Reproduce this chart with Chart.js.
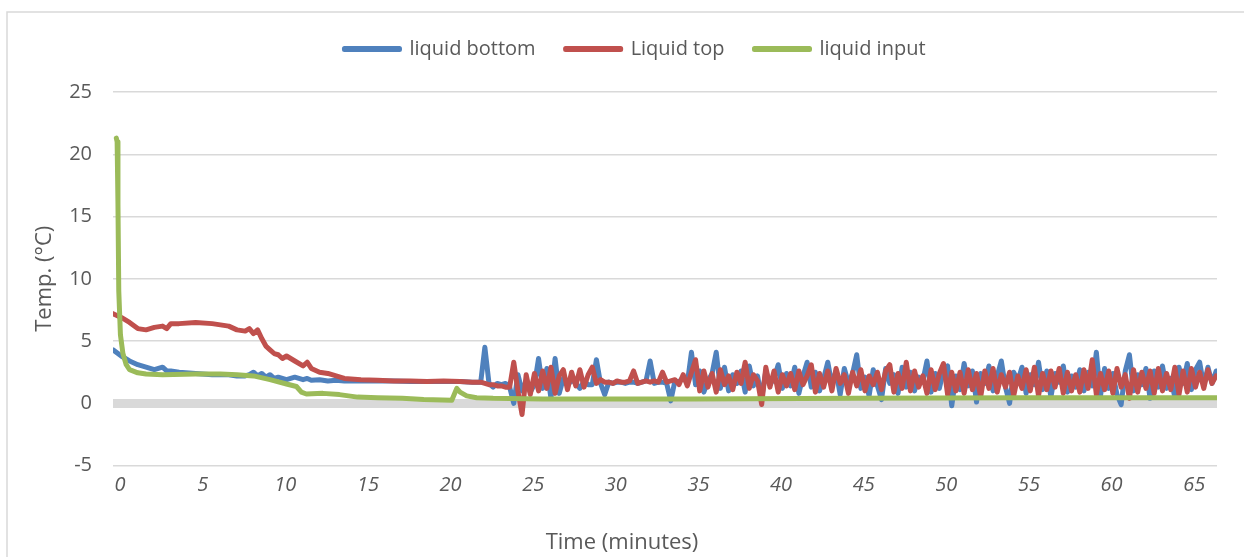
<!DOCTYPE html>
<html>
<head>
<meta charset="utf-8">
<script src="https://cdn.jsdelivr.net/npm/chart.js@4.4.0/dist/chart.umd.min.js"></script>
<style>
  html, body { margin: 0; padding: 0; background: #fff; }
</style>
</head>
<body>
<canvas id="tempChart" width="1244" height="557"></canvas>
<script>
// Liquid temperatures during the run

const seriesNames = ['liquid bottom', 'Liquid top', 'liquid input']
const seriesColors = ['#4f81bd', '#c0504d', '#9bbb59']

// first minutes, sampled where the curves bend
const earlyTime = [0, 0.5, 1, 1.5, 2, 2.5, 3, 3.25, 3.5, 4, 5, 6, 7, 7.5, 8, 8.25, 8.5, 8.75, 9, 9.25,
  9.5, 9.75, 10, 10.25, 10.5, 11, 11.5, 11.75, 12, 12.5, 13, 13.5, 14, 15, 16, 17, 18, 19, 20, 21, 21.75]
const bottomEarly = [4.3, 3.8, 3.4, 3.1, 2.9, 2.7, 2.9, 2.6, 2.6, 2.5, 2.4, 2.3, 2.3, 2.2, 2.2, 2.3, 2.5, 2.2, 2.4, 2.1,
  2.3, 2.0, 2.1, 2.0, 1.9, 2.1, 1.9, 2.0, 1.85, 1.9, 1.8, 1.85, 1.8, 1.8, 1.8, 1.8, 1.75, 1.75, 1.75, 1.75, 1.7]
const topEarly = [7.2, 6.9, 6.5, 6.0, 5.9, 6.1, 6.2, 6.0, 6.4, 6.4, 6.5, 6.4, 6.2, 5.9, 5.8, 6.0, 5.6, 5.9, 5.2, 4.6,
  4.3, 4.0, 3.9, 3.6, 3.8, 3.4, 3.0, 3.3, 2.8, 2.5, 2.4, 2.2, 2.0, 1.9, 1.85, 1.8, 1.8, 1.75, 1.8, 1.75, 1.7]

// from minute 22 the logger reads every 15 s (one row = one minute)
const noisyStart = 22
const noisyStep = 0.25
const bottomNoisy = [
  1.7, 1.7, 4.5, 1.6,  1.3, 1.6, 1.5, 1.6,  1.3, 0.0, 2.3, 1.0,  1.8, 0.9, 1.5, 3.6,
  1.2, 2.8, 0.4, 3.6,  0.8, 2.0, 1.4, 1.9,  1.6, 1.2, 1.8, 1.5,  1.5, 3.5, 1.6, 0.7,
  1.7, 1.6, 1.7, 1.7,  1.6, 1.7, 1.7, 1.6,  1.7, 1.8, 3.4, 1.6,  1.7, 1.7, 1.6, 0.2,
  1.8, 1.7, 2.1, 1.6,  4.1, 1.5, 2.6, 0.9,  1.8, 2.4, 4.1, 1.2,  2.9, 1.0, 2.3, 1.6,
  2.6, 0.9, 3.0, 1.4,  2.2, 0.4, 2.6, 1.5,  2.0, 3.1, 1.2, 2.4,  1.4, 2.9, 0.8, 2.2,
  3.3, 1.3, 2.5, 1.0,  2.0, 3.3, 1.5, 2.6,  0.7, 2.8, 1.6, 2.4,  3.9, 1.2, 2.1, 0.6,
  2.7, 1.4, 0.3, 2.8,  1.6, 2.3, 0.8, 2.9,  1.3, 2.5, 1.0, 2.1,  1.8, 3.4, 0.9, 2.4,
  1.2, 2.6, 3.0, -0.2, 2.2, 1.1, 3.2, 1.4,  2.6, 0.1, 2.4, 1.6,  3.0, 1.0, 2.2, 3.4,
  1.3, 0.0, 2.5, 1.8,  2.9, 0.8, 2.3, 1.5,  3.3, 1.1, 2.6, 0.5,  2.4, 1.7, 3.0, 0.9,
  2.2, 1.3, 2.7, 1.0,  2.5, 1.4, 4.1, 0.6,  2.8, 1.2, 2.4, 0.7,  -0.1, 2.6, 3.9, 1.0,
  2.3, 1.5, 2.8, 0.4,  2.6, 1.3, 3.0, 1.2,  2.0, 0.5, 2.9, 1.6,  3.2, 1.1, 2.7, 3.3,
  1.4, 2.9, 1.6, 2.6
]
const topNoisy = [
  1.7, 1.7, 1.6, 1.5,  1.5, 1.4, 1.4, 1.3,  1.3, 3.3, 1.0, -0.9, 2.3, 0.7, 2.4, 1.0,
  2.6, 1.2, 2.9, 0.8,  2.2, 2.7, 1.1, 2.5,  1.4, 2.7, 1.3, 2.3,  2.9, 1.6, 1.9, 1.7,
  1.7, 1.6, 1.8, 1.7,  1.7, 1.8, 2.6, 1.6,  1.7, 1.8, 1.7, 1.8,  1.7, 2.5, 1.7, 1.8,
  1.9, 1.5, 2.3, 1.4,  2.5, 3.5, 1.0, 2.6,  1.3, 2.4, 0.9, 2.7,  1.5, 2.2, 1.1, 2.5,
  1.6, 3.3, 1.2, 2.3,  1.8, -0.1, 2.9, 1.3, 2.6, 0.9, 2.3, 1.4,  2.4, 1.1, 2.6, 1.5,
  2.2, 3.1, 0.9, 2.4,  1.3, 2.6, 1.0, 2.8,  1.6, 2.3, 0.8, 2.5,  1.4, 2.7, 1.0, 2.2,
  1.5, 2.5, 1.1, 2.6,  3.1, 0.9, 2.4, 1.2,  3.3, 1.0, 2.6, 1.3,  2.2, 0.8, 2.7, 1.1,
  2.4, 3.2, 0.7, 2.5,  1.0, 2.5, 0.8, 2.7,  1.1, 2.4, 0.5, 2.6,  1.2, 2.8, 0.9, 2.3,
  1.3, 2.5, 0.6, 2.2,  1.2, 2.7, 1.0, 2.9,  0.6, 2.4, 1.1, 2.6,  1.3, 2.8, 0.8, 2.5,
  1.0, 2.3, 0.9, 2.7,  1.2, 3.5, 0.7, 2.4,  1.1, 2.6, 0.8, 2.8,  1.3, 2.3, 0.4, 2.7,
  0.9, 2.5, 1.2, 2.6,  0.8, 2.8, 1.0, 2.4,  1.1, 2.9, 0.7, 2.6,  0.9, 2.8, 1.3, 2.5,
  1.2, 2.7, 1.6, 2.2
]

// input line is smooth, so it is kept at its own sample times
const inputTime = [0.2, 0.25, 0.3, 0.35, 0.45, 0.6, 0.8, 1.0, 1.5, 2, 3, 5, 6.5, 7.5, 8.5, 9.5, 10.5, 11.1, 11.4,
  11.7, 12.7, 13.7, 14.8, 16, 17.5, 18.8, 20.5, 20.8, 21.0, 21.4, 22, 23, 26, 35, 45, 55, 66.8]
const inputVal = [21.3, 21.0, 16, 9, 5.5, 4.0, 3.1, 2.7, 2.45, 2.35, 2.3, 2.35, 2.35, 2.3, 2.2, 1.9, 1.55, 1.35, 0.9,
  0.75, 0.8, 0.7, 0.5, 0.45, 0.4, 0.3, 0.25, 1.2, 0.9, 0.6, 0.45, 0.4, 0.35, 0.35, 0.4, 0.45, 0.45]

const yTicks = { min: -5, max: 25, step: 5 }
const xTicks = { min: 0, max: 66.8, step: 5 }

const noisyTime = bottomNoisy.map((_, i) => noisyStart + i * noisyStep)
const loggerTime = earlyTime.concat(noisyTime)
const pairs = (xs, ys) => xs.map((x, i) => ({ x: x, y: ys[i] }))

const bottomData = pairs(loggerTime, bottomEarly.concat(bottomNoisy))
const topData = pairs(loggerTime, topEarly.concat(topNoisy))
const inputData = pairs(inputTime, inputVal)

const grey = '#595959'
const family = "'Open Sans', sans-serif"

const frame = {
  id: 'frame',
  beforeLayout(chart) {
    // legend needs a fixed height so the plot starts where it does in the original
    const legend = chart.legend
    if (legend && !legend.patched) {
      const fit = legend.fit
      legend.fit = function () { fit.call(this); this.height = 83 }
      legend.patched = true
    }
  },
  afterLayout(chart) {
    // Excel centred the legend a bit right of the page centre
    chart.legend.left += 13
    chart.legend.right += 13
  },
  beforeDraw(chart) {
    const c = chart.ctx
    c.save()
    c.strokeStyle = '#d9d9d9'
    c.lineWidth = 1.5
    c.strokeRect(7, 12, chart.width + 20, chart.height + 20)
    c.restore()
  }
}

const lineSet = (i, data, order) => ({
  label: seriesNames[i],
  data: data,
  borderColor: seriesColors[i],
  backgroundColor: seriesColors[i],
  borderWidth: 5,
  pointRadius: 0,
  tension: 0,
  borderJoinStyle: 'round',
  borderCapStyle: 'round',
  order: order
})

const ctx = document.getElementById('tempChart').getContext('2d')
const tempChart = new Chart(ctx, {
  type: 'line',
  data: {
    datasets: [
      lineSet(0, bottomData, 3),
      lineSet(1, topData, 2),
      lineSet(2, inputData, 1)
    ]
  },
  options: {
    responsive: false,
    animation: false,
    layout: { padding: { top: 9, left: 27, right: 27, bottom: 0 } },
    plugins: {
      legend: {
        position: 'top',
        labels: {
          color: grey,
          font: { family: family, size: 20 },
          boxWidth: 55,
          boxHeight: 1,
          padding: 30,
          sort: (a, b) => a.datasetIndex - b.datasetIndex
        }
      },
      title: {
        display: true,
        position: 'bottom',
        text: 'Time (minutes)',
        color: grey,
        font: { family: family, size: 22, weight: 'normal' },
        padding: { top: 0, bottom: 1 }
      },
      tooltip: { enabled: false }
    },
    scales: {
      x: {
        type: 'linear',
        min: xTicks.min,
        max: xTicks.max,
        afterFit: (s) => { s.height = 64 },
        grid: { display: false, drawTicks: false },
        border: { display: false },
        ticks: {
          stepSize: xTicks.step,
          includeBounds: false,
          color: grey,
          padding: 8,
          labelOffset: 7,
          maxRotation: 0,
          font: { family: family, size: 20, style: 'italic' }
        }
      },
      y: {
        min: yTicks.min,
        max: yTicks.max,
        afterFit: (s) => { s.width = 86 },
        border: { display: false },
        grid: {
          drawTicks: false,
          color: '#d9d9d9',
          lineWidth: (c) => (c.tick && c.tick.value === 0 ? 9 : 1.5)
        },
        ticks: {
          stepSize: yTicks.step,
          color: grey,
          padding: 21,
          font: { family: family, size: 20 }
        },
        title: {
          display: true,
          text: 'Temp. (°C)',
          color: grey,
          font: { family: family, size: 22 },
          padding: { top: 5, bottom: 0 }
        }
      }
    }
  },
  plugins: [frame]
})
</script>
</body>
</html>
